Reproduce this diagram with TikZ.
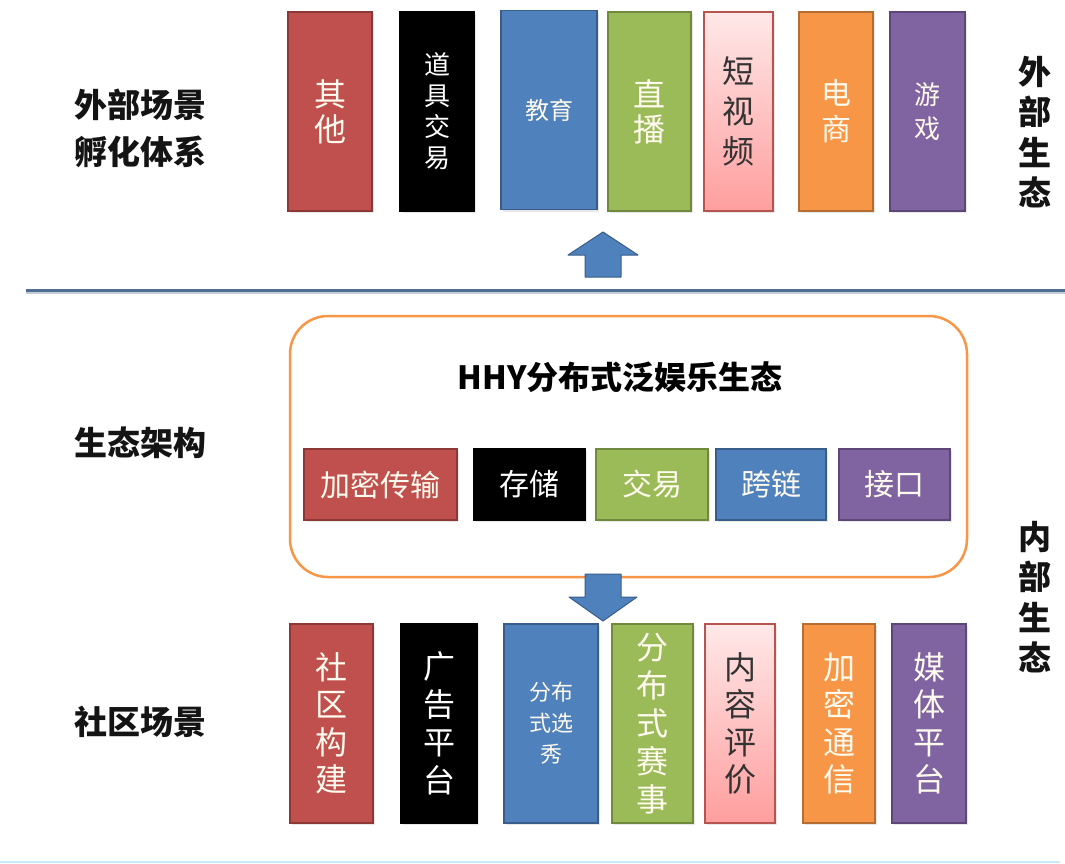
\documentclass[tikz,border=0pt]{standalone}
\usepackage{fontspec}
\setmainfont{Noto Sans CJK SC}
\usetikzlibrary{shadows}
\definecolor{cred}{RGB}{192,80,77}
\definecolor{credd}{RGB}{140,56,54}
\definecolor{cblue}{RGB}{79,129,189}
\definecolor{cblued}{RGB}{56,93,138}
\definecolor{cgreen}{RGB}{155,187,89}
\definecolor{cgreend}{RGB}{113,137,63}
\definecolor{corange}{RGB}{247,150,70}
\definecolor{coranged}{RGB}{182,109,49}
\definecolor{cpurple}{RGB}{128,100,162}
\definecolor{cpurpled}{RGB}{92,71,118}
\definecolor{cpinkt}{RGB}{255,232,232}
\definecolor{cpinkb}{RGB}{255,158,158}
\definecolor{cpinkd}{RGB}{184,84,80}
\definecolor{ctext}{RGB}{255,250,238}
\definecolor{cline}{RGB}{79,110,145}
\definecolor{cbottom}{RGB}{200,236,248}
\definecolor{clabel}{RGB}{20,20,20}
\tikzset{
  x=1pt, y=-1pt,
  box/.style={draw, line width=1.2pt, inner sep=0pt, align=center, text=ctext,
    drop shadow={opacity=0.18, shadow xshift=1.5pt, shadow yshift=-2pt}},
  redbox/.style={box, fill=cred, draw=credd},
  blackbox/.style={box, fill=black, draw=black},
  bluebox/.style={box, fill=cblue, draw=cblued},
  greenbox/.style={box, fill=cgreen, draw=cgreend},
  pinkbox/.style={box, top color=cpinkt, bottom color=cpinkb, draw=cpinkd, text=black!80},
  orangebox/.style={box, fill=corange, draw=coranged},
  purplebox/.style={box, fill=cpurple, draw=cpurpled},
  tall/.style={minimum height=199pt},
  mid/.style={minimum height=71pt, font=\fontsize{30}{36}\selectfont},
  label/.style={align=center, text=clabel, font=\fontsize{33}{47}\selectfont\bfseries},
  vlabel/.style={align=center, text=clabel, font=\fontsize{33}{40.5}\selectfont\bfseries},
  blockarrow/.style={fill=cblue, draw=cblued, line width=1pt, line join=round},
}
\begin{document}
\begin{tikzpicture}
\useasboundingbox (0,0) rectangle (1065,863);
\fill[white] (0,0) rectangle (1065,863);

% top row
\node[redbox, tall, minimum width=84pt, font=\fontsize{32}{35}\selectfont] (qita) at (330,111.5) {其\\他};
\node[blackbox, tall, minimum width=74pt, font=\fontsize{26}{31}\selectfont, text=white] (daoju) at (437,111.5) {道\\具\\交\\易};
\node[bluebox, tall, minimum width=96pt, font=\fontsize{24}{28}\selectfont] (jiaoyu) at (549,110) {教育};
\node[greenbox, tall, minimum width=83pt, font=\fontsize{32}{35}\selectfont] (zhibo) at (649.5,111.5) {直\\播};
\node[pinkbox, tall, minimum width=69pt, font=\fontsize{32}{40}\selectfont] (duan) at (738.5,111.5) {短\\视\\频};
\node[orangebox, tall, minimum width=74pt, font=\fontsize{30}{36}\selectfont] (dian) at (836,111.5) {电\\商};
\node[purplebox, tall, minimum width=75pt, font=\fontsize{26}{34}\selectfont] (youxi) at (927.5,111.5) {游\\戏};

% labels
\node[label] (waibu) at (140,128.5) {外部场景\\孵化体系};
\node[vlabel] (wbst) at (1035,132) {外\\部\\生\\态};
\node[label] (jiagou) at (140,443) {生态架构};
\node[vlabel] (nbst) at (1035,597) {内\\部\\生\\态};
\node[label] (shequcj) at (140,722) {社区场景};

% separator
\coordinate (sepL) at (26,290);
\coordinate (sepR) at (1065,290);
\draw[cline!35, line width=3pt] ([yshift=-2.5pt]sepL) -- ([yshift=-2.5pt]sepR);
\draw[cline, line width=3pt] (sepL) -- (sepR);

% up arrow
\draw[blockarrow] (585,277) -- (585,255) -- (568,255) -- (603,232) -- (638,255) -- (621,255) -- (621,277) -- cycle;

% ecosystem box
\node[draw=corange, line width=2.5pt, rounded corners=38pt, fill=white,
  minimum width=677pt, minimum height=261pt, inner sep=0pt] (eco) at (628.5,446.5) {};
\node[font=\fontsize{32}{36}\selectfont\bfseries, text=black] (title) at (620,377) {HHY分布式泛娱乐生态};

\node[redbox, mid, minimum width=153pt] (jiami) at (380.5,484.5) {加密传输};
\node[blackbox, mid, minimum width=111pt, text=white] (cunchu) at (529.5,484.5) {存储};
\node[greenbox, mid, minimum width=112pt] (jiaoyi) at (652,484.5) {交易};
\node[bluebox, mid, minimum width=110pt] (kualian) at (771,484.5) {跨链};
\node[purplebox, mid, minimum width=111pt] (jiekou) at (894.5,484.5) {接口};

% down arrow
\draw[blockarrow] (585,574) -- (621,574) -- (621,597) -- (637,597) -- (603,621) -- (569,597) -- (585,597) -- cycle;

% bottom row
\node[redbox, tall, minimum width=83pt, font=\fontsize{32}{37.5}\selectfont] (shequ) at (331.5,723.5) {社\\区\\构\\建};
\node[blackbox, tall, minimum width=76pt, font=\fontsize{32}{38}\selectfont, text=white] (guanggao) at (439,723.5) {广\\告\\平\\台};
\node[bluebox, tall, minimum width=94pt, font=\fontsize{22}{31}\selectfont] (xuanxiu) at (551,723.5) {分布\\式选\\秀};
\node[greenbox, tall, minimum width=81pt, font=\fontsize{32}{38}\selectfont] (saishi) at (652.5,723.5) {分\\布\\式\\赛\\事};
\node[pinkbox, tall, minimum width=70pt, font=\fontsize{32}{37.5}\selectfont] (pingjia) at (740,723.5) {内\\容\\评\\价};
\node[orangebox, tall, minimum width=72pt, font=\fontsize{32}{37.5}\selectfont] (tongxin) at (839,723.5) {加\\密\\通\\信};
\node[purplebox, tall, minimum width=74pt, font=\fontsize{32}{37.5}\selectfont] (meiti) at (929,723.5) {媒\\体\\平\\台};

% bottom line
\coordinate (botL) at (0,862);
\coordinate (botR) at (1060,862);
\draw[cbottom, line width=1.5pt] (botL) -- (botR);
\end{tikzpicture}
\end{document}
